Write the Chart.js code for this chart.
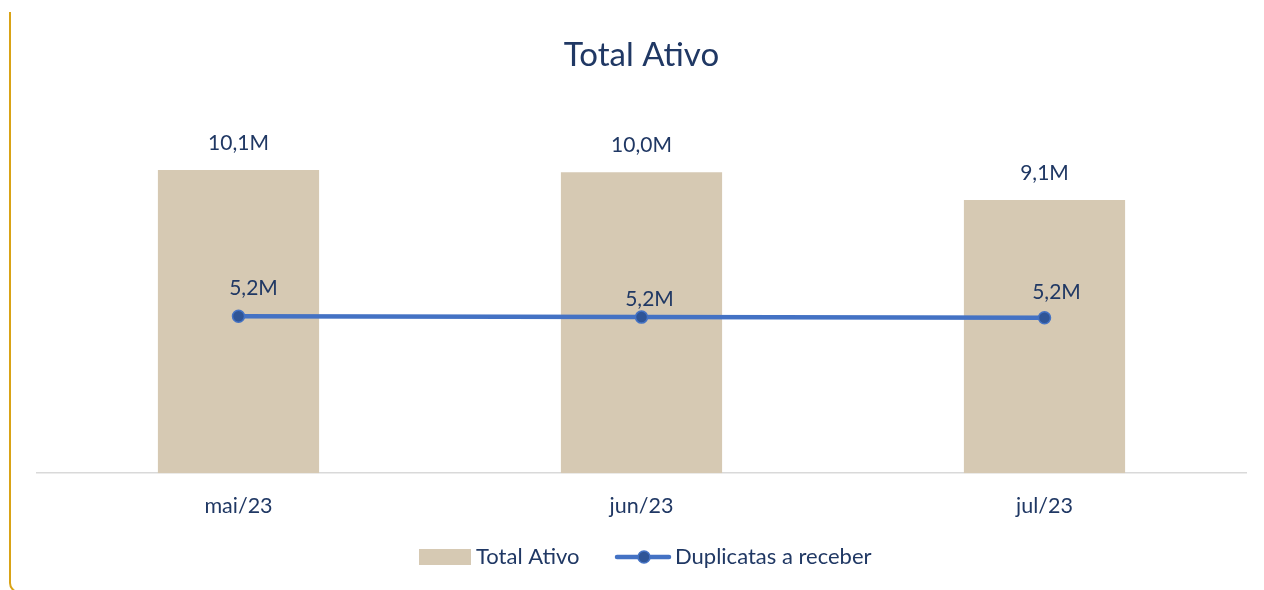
<!DOCTYPE html>
<html>
<head>
<meta charset="utf-8">
<script src="https://cdn.jsdelivr.net/npm/chart.js@4/dist/chart.umd.min.js"></script>
<style>
  html, body { margin: 0; padding: 0; background: #ffffff; overflow: hidden; }
  #wrap { position: relative; width: 1264px; height: 590px; }
  #frame { position: absolute; left: 9px; top: 12px; width: 1300px; height: 581px;
           border-left: 2px solid #D9A316; border-bottom: 2px solid #D9A316;
           border-bottom-left-radius: 10px; box-sizing: border-box; pointer-events: none; }
  canvas { position: absolute; left: 0; top: 0; }
</style>
</head>
<body>
<div id="wrap">
  <div id="frame"></div>
  <canvas id="c" width="1264" height="590"></canvas>
</div>
<script>
const categories = ['mai/23', 'jun/23', 'jul/23'];
const totalAtivo = [10.1, 10.03, 9.1];
const duplicatas = [5.23, 5.2, 5.18];
const seriesNames = ['Total Ativo', 'Duplicatas a receber'];
const chartTitle = 'Total Ativo';

const FONT = 'Lato, "Open Sans", sans-serif';
const TEXT = '#203864';
const BAR = '#D6C9B3';
const LINE = '#4472C4';
const MARK = '#2F5597';

// label offsets for line labels (Excel-like placement)
const lineLabelOffsets = [[15, -28], [8, -18], [12, -25]];

function fmt(v) { return v.toFixed(1).replace('.', ',') + 'M'; }

const labelPlugin = {
  id: 'labels',
  afterDatasetsDraw(chart) {
    const ctx = chart.ctx;
    ctx.save();
    ctx.font = '21px ' + FONT;
    ctx.fillStyle = TEXT;
    ctx.textAlign = 'center';
    ctx.textBaseline = 'middle';
    const barMeta = chart.getDatasetMeta(0);
    barMeta.data.forEach((el, i) => {
      ctx.fillText(fmt(totalAtivo[i]), el.x, el.y - 27);
    });
    const lineMeta = chart.getDatasetMeta(1);
    lineMeta.data.forEach((el, i) => {
      const o = lineLabelOffsets[i];
      ctx.fillText(fmt(duplicatas[i]), el.x + o[0], el.y + o[1]);
    });
    ctx.restore();
  },
  afterDraw(chart) {
    const ctx = chart.ctx;
    ctx.save();
    const y = 557;
    ctx.font = '22px ' + FONT;
    ctx.textBaseline = 'middle';
    ctx.textAlign = 'left';
    // legend item 1
    ctx.fillStyle = BAR;
    ctx.fillRect(419, y - 8, 52, 16);
    ctx.fillStyle = TEXT;
    ctx.fillText(seriesNames[0], 476, y);
    // legend item 2
    ctx.strokeStyle = LINE;
    ctx.lineWidth = 4.5;
    ctx.lineCap = 'round';
    ctx.beginPath();
    ctx.moveTo(617, y);
    ctx.lineTo(669, y);
    ctx.stroke();
    ctx.beginPath();
    ctx.arc(644, y, 6, 0, Math.PI * 2);
    ctx.fillStyle = MARK;
    ctx.fill();
    ctx.lineWidth = 1.5;
    ctx.strokeStyle = LINE;
    ctx.stroke();
    ctx.fillStyle = TEXT;
    ctx.fillText(seriesNames[1], 675, y);
    ctx.restore();
  }
};

new Chart(document.getElementById('c'), {
  data: {
    labels: categories,
    datasets: [
      { type: 'bar', label: seriesNames[0], data: totalAtivo, backgroundColor: BAR,
        categoryPercentage: 1.0, barPercentage: 0.4, order: 2 },
      { type: 'line', label: seriesNames[1], data: duplicatas, borderColor: LINE, borderWidth: 4.5,
        pointRadius: 6, pointBackgroundColor: MARK, pointBorderColor: LINE, pointBorderWidth: 1.5,
        tension: 0, order: 1 }
    ]
  },
  options: {
    responsive: false,
    animation: false,
    layout: { padding: { left: 37, right: 18, top: 20, bottom: 51 } },
    plugins: {
      legend: { display: false },
      tooltip: { enabled: false },
      title: { display: true, text: chartTitle, color: TEXT,
               font: { family: FONT, size: 33, weight: 'normal' },
               padding: { top: 16, bottom: 37.4 } }
    },
    scales: {
      x: {
        offset: true,
        grid: { display: false, drawTicks: false },
        border: { display: true, color: '#D9D9D9', width: 1.5 },
        ticks: { color: TEXT, font: { family: FONT, size: 21.5 }, padding: 20 }
      },
      y: { display: false, min: 0, max: 12 }
    }
  },
  plugins: [labelPlugin]
});
</script>
</body>
</html>
